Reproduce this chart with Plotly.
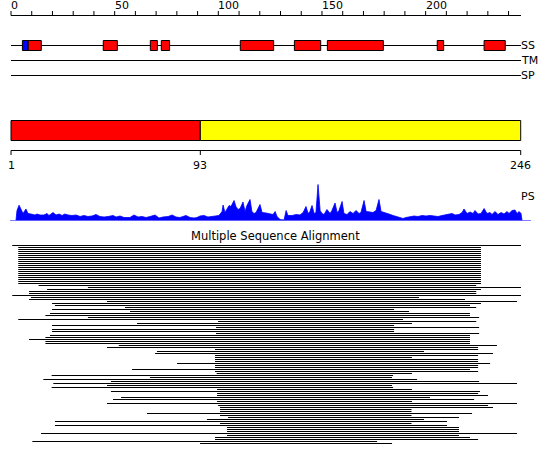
import plotly.graph_objects as go

# ------------------------------------------------------------------ data
SEQ_LEN = 246
RULER_TICKS = [0, 10, 20, 30, 40, 50, 60, 70, 80, 90, 100, 110, 120,
               130, 140, 150, 160, 170, 180, 190, 200, 210, 220, 230, 240]
RULER_LABELS = [0, 50, 100, 150, 200]

TRACKS = ["SS", "TM", "SP"]

# secondary structure elements (E = strand, H = helix)
SS_TYPE = ["E", "H", "H", "H", "H", "H", "H", "H", "H", "H"]
SS_START = [5.5, 8.3, 44.5, 67.2, 72.5, 110.6, 136.7, 152.6, 205.6, 228.2]
SS_END = [8.3, 14.6, 51.3, 70.6, 76.5, 126.7, 149.4, 179.6, 208.7, 238.4]

DOMAIN_START = [1, 93]
DOMAIN_END = [92, 246]
DOMAIN_COLOR = ["#ff0000", "#ffff00"]

# PS profile (position along sequence, score)
PS_POS = [2.4, 2.9, 3.9, 4.8, 5.8, 7.2, 8.2, 9.6, 11.6, 12.5,
          14.0, 15.9, 17.4, 18.3, 20.3, 21.7, 23.2, 24.6, 26.0, 27.5,
          29.4, 31.4, 33.3, 35.2, 37.1, 39.1, 41.0, 42.9, 44.9, 46.8,
          49.2, 50.7, 52.6, 54.5, 57.4, 59.3, 61.3, 63.2, 65.1, 67.1,
          69.5, 71.4, 73.3, 75.8, 77.7, 79.6, 81.5, 84.4, 86.4, 88.3,
          89.7, 91.2, 93.1, 95.0, 97.0, 98.9, 100.3, 101.8, 102.3, 103.2,
          104.2, 105.2, 106.1, 107.6, 108.5, 109.5, 110.5, 111.9, 112.9, 113.8,
          115.3, 116.2, 117.2, 118.2, 120.1, 121.1, 123.0, 124.9, 126.4, 127.4,
          128.3, 129.8, 131.7, 132.7, 133.6, 135.6, 137.5, 139.4, 140.9, 142.3,
          143.3, 144.2, 145.2, 146.2, 147.1, 148.1, 149.1, 150.0, 151.0, 152.4,
          153.9, 154.8, 156.3, 157.3, 158.2, 159.7, 160.6, 162.1, 163.5, 165.0,
          166.4, 167.9, 168.8, 170.3, 171.3, 173.2, 174.6, 176.1, 177.5, 178.5,
          180.4, 182.3, 184.3, 186.2, 188.1, 189.1, 190.5, 192.5, 194.4, 196.3,
          198.3, 200.2, 202.1, 204.1, 206.0, 207.9, 209.8, 211.3, 212.7, 214.2,
          216.1, 217.6, 218.5, 220.0, 221.4, 222.9, 223.8, 225.3, 226.7, 228.2,
          229.6, 231.1, 232.0, 233.5, 234.9, 236.4, 237.8, 239.3, 240.2, 241.7,
          243.1, 244.1, 245.1, 246.0, 246.5]
PS_VAL = [0, 10, 15.3, 12, 7, 11.5, 7, 6.5, 5.5, 6.5,
          5.5, 5.5, 7, 5, 8, 5.5, 6.5, 5, 6.5, 5.5,
          5, 5.5, 4, 5, 4, 4.5, 6, 4, 3.5, 4,
          5, 3.5, 4.5, 3, 3, 5.5, 3.5, 4, 3, 4,
          5.5, 2.5, 3.5, 4, 5.5, 3.5, 3, 5, 3, 2.5,
          3, 4.5, 5, 3.5, 4, 4.5, 5, 9, 15.5, 8,
          11, 15, 14, 20, 14, 11, 12, 18.5, 9, 15,
          21, 9, 7, 8, 16, 8, 7.5, 7, 6, 9,
          4, 1, 0.5, 10, 5, 5, 6, 5.5, 8, 14,
          7, 9, 15, 7, 8, 36, 10, 7, 6, 11,
          7, 10, 17.5, 8, 10, 19, 7, 6, 9, 7,
          10, 7, 8, 20, 9, 8.5, 8, 10, 21, 9,
          8, 6.5, 5, 3.5, 2.5, 2, 3, 4, 4.5, 4,
          5, 4.5, 5, 4.5, 4, 5, 5.5, 6, 7, 5.5,
          6, 8, 11.5, 7, 8.5, 7, 10, 6.5, 7, 12,
          7, 8, 6, 9, 6, 8, 6.5, 9, 7, 10,
          10.5, 7, 9, 7, 0]

# multiple sequence alignment: aligned span of each homologous sequence
MSA_START = [0.6, 3.5, 3.5, 3.5, 3.5, 3.5, 3.5, 3.5, 3.5, 3.5,
             3.5, 3.5, 3.5, 3.5, 3.5, 3.5, 3.5, 3.5, 3.5, 3.5,
             13.3, 37.1, 17.4, 8.7, 8.7, 0.6, 9.6, 8.7, 46.3, 19.8,
             21.2, 55.0, 19.8, 57.4, 18.8, 16.6, 37.1, 3.5, 99.9, 60.8,
             19.8, 98.9, 19.8, 19.8, 98.9, 18.8, 16.6, 8.7, 16.6, 16.6,
             52.0, 46.3, 98.4, 70.4, 69.5, 98.4, 98.4, 98.4, 98.4, 80.1,
             98.4, 98.4, 58.4, 98.4, 99.2, 19.6, 67.0, 15.6, 48.2, 20.4,
             46.3, 19.6, 99.4, 48.2, 99.4, 99.4, 53.1, 49.2, 99.4, 46.3,
             99.9, 100.8, 100.8, 100.8, 65.6, 100.8, 104.7, 94.5, 21.2, 100.8,
             21.2, 104.2, 104.2, 104.2, 14.5, 104.2, 98.4, 98.4, 10.3, 91.2]
MSA_END = [246.0, 226.7, 226.7, 226.7, 226.7, 226.7, 226.7, 226.7, 226.7, 226.7,
           226.7, 226.7, 226.7, 226.7, 226.7, 226.7, 226.7, 226.7, 226.7, 226.7,
           224.4, 246.0, 226.7, 224.4, 224.4, 246.0, 196.8, 219.0, 244.1, 226.7,
           221.4, 224.4, 184.8, 192.0, 221.4, 221.4, 225.8, 189.1, 224.4, 193.4,
           184.8, 225.8, 184.8, 184.8, 225.8, 221.4, 221.4, 221.4, 221.4, 221.4,
           234.4, 225.3, 225.3, 199.2, 232.5, 225.3, 193.4, 225.3, 225.3, 231.1,
           225.3, 225.3, 221.4, 225.3, 193.4, 184.3, 183.8, 195.9, 225.8, 244.1,
           183.8, 184.3, 193.4, 226.2, 225.3, 230.1, 202.1, 223.4, 193.4, 244.1,
           230.1, 232.5, 193.2, 193.2, 222.4, 193.2, 216.1, 199.2, 210.3, 193.2,
           210.3, 216.1, 216.1, 216.1, 244.1, 216.1, 221.4, 225.3, 176.6, 183.8]

# ------------------------------------------------------------------ layout constants
# pixel positions on the 550x465 canvas (page body margin is removed below)
W, H = 550, 465
FONT = "DejaVu Sans"
PX0 = 11.0                      # canvas x of the sequence start
PX_PER_RES = (521.0 - PX0) / SEQ_LEN
PX_PER_RES2 = (520.7 - PX0) / (SEQ_LEN - 1)

RULER_Y, TICK_TOP = 15.5, 11.0
LABEL_Y = 5.5
TRACK_Y = {"SS": 45.5, "TM": 60.5, "SP": 75.5}
BOX_HALF = 5.0
SS_COLOR = {"H": "#ff0000", "E": "#0000ff"}
BAR_TOP, BAR_BOT = 120.5, 140.5
RULER2_Y, RULER2_TICK = 150.5, 155.0
RULER2_LABEL_Y = 165.0
PS_BASE_PX, PS_SPAN = 220.5, 40.0
PS_LABEL_Y = 196.0
PS_AXIS_FROM, PS_AXIS_TO = -0.5, 250.8
MSA_TITLE_Y = 235.5
MSA_TOP_PX, MSA_ROW_PX = 244.5, 2.0

n_rows = len(MSA_START)
msa_bottom_px = MSA_TOP_PX + n_rows * MSA_ROW_PX


def yfrac(px):
    return 1 - px / H


fig = go.Figure()

# PS profile
fig.add_trace(go.Scatter(
    x=PS_POS, y=PS_VAL, xaxis="x", yaxis="y2", mode="lines",
    line=dict(color="#0000ff", width=0.8), fill="tozeroy", fillcolor="#0000ff",
    hoverinfo="skip", showlegend=False))

# MSA rows
mx, my = [], []
for k, (s, e) in enumerate(zip(MSA_START, MSA_END)):
    mx += [s, e, None]
    my += [k, k, None]
fig.add_trace(go.Scatter(
    x=mx, y=my, xaxis="x", yaxis="y3", mode="lines",
    line=dict(color="#000000", width=1), hoverinfo="skip", showlegend=False))

shapes = []
ann = []
blk = dict(color="#000000", width=1)

# top ruler
shapes.append(dict(type="line", xref="x", yref="y", x0=0, x1=SEQ_LEN,
                   y0=RULER_Y, y1=RULER_Y, line=blk))
for t in RULER_TICKS:
    shapes.append(dict(type="line", xref="x", yref="y", x0=t, x1=t,
                       y0=TICK_TOP, y1=RULER_Y, line=blk))
for v in RULER_LABELS:
    ann.append(dict(text=str(v), x=v, y=LABEL_Y, xref="x", yref="y",
                    xanchor="left", yanchor="middle", showarrow=False,
                    borderpad=0, borderwidth=0,
                    font=dict(family=FONT, size=11, color="#000")))

# feature tracks
for name in TRACKS:
    y = TRACK_Y[name]
    shapes.append(dict(type="line", xref="x", yref="y", x0=0, x1=SEQ_LEN,
                       y0=y, y1=y, line=blk))
    ann.append(dict(text=name, x=SEQ_LEN, y=y, xref="x", yref="y",
                    xanchor="left", yanchor="middle", showarrow=False,
                    borderpad=0, borderwidth=0,
                    font=dict(family=FONT, size=11, color="#000")))
for t, s, e in zip(SS_TYPE, SS_START, SS_END):
    y = TRACK_Y["SS"]
    shapes.append(dict(type="rect", xref="x", yref="y", x0=s, x1=e,
                       y0=y - BOX_HALF, y1=y + BOX_HALF,
                       fillcolor=SS_COLOR[t], line=blk))

# domain bar + its ruler
shapes.append(dict(type="line", xref="x2", yref="y", x0=DOMAIN_START[0],
                   x1=DOMAIN_END[-1], y0=RULER2_Y, y1=RULER2_Y, line=blk))
for i, (s, e, c) in enumerate(zip(DOMAIN_START, DOMAIN_END, DOMAIN_COLOR)):
    left = DOMAIN_END[i - 1] if i > 0 else s
    shapes.append(dict(type="rect", xref="x2", yref="y", x0=left, x1=e,
                       y0=BAR_TOP, y1=BAR_BOT, fillcolor=c, line=blk))
    for pos, lab in ([(left, s)] + ([(e, e)] if i == len(DOMAIN_START) - 1 else [])):
        shapes.append(dict(type="line", xref="x2", yref="y", x0=pos, x1=pos,
                           y0=RULER2_Y, y1=RULER2_TICK, line=blk))
        ann.append(dict(text=str(lab), x=pos, y=RULER2_LABEL_Y, xref="x2", yref="y",
                        xanchor="center", yanchor="middle", showarrow=False,
                        borderpad=0, borderwidth=0,
                        font=dict(family=FONT, size=11, color="#000")))

# PS baseline + label
shapes.append(dict(type="line", xref="x", yref="y2", x0=PS_AXIS_FROM, x1=PS_AXIS_TO,
                   y0=0, y1=0, line=dict(color="#0000ff", width=1)))
ann.append(dict(text="PS", x=SEQ_LEN, y=PS_LABEL_Y, xref="x", yref="y",
                xanchor="left", yanchor="middle", showarrow=False,
                borderpad=0, borderwidth=0,
                font=dict(family=FONT, size=11, color="#000")))

# MSA title
ann.append(dict(text="Multiple Sequence Alignment", x=0.5, y=MSA_TITLE_Y,
                xref="paper", yref="y", xanchor="center", yanchor="middle",
                showarrow=False, borderpad=0, borderwidth=0,
                font=dict(family=FONT, size=11.5, color="#000")))

hidden = dict(visible=False, showgrid=False, zeroline=False, fixedrange=True)
fig.update_layout(
    width=W, height=H, margin=dict(l=0, r=0, t=0, b=0, pad=0),
    paper_bgcolor="white", plot_bgcolor="white", hovermode=False,
    showlegend=False, shapes=shapes, annotations=ann,
    xaxis=dict(domain=[0, 1], range=[-PX0 / PX_PER_RES, (W - PX0) / PX_PER_RES],
               anchor="y", **hidden),
    xaxis2=dict(domain=[0, 1], overlaying="x", anchor="y",
                range=[DOMAIN_START[0] - PX0 / PX_PER_RES2,
                       DOMAIN_START[0] + (W - PX0) / PX_PER_RES2], **hidden),
    yaxis=dict(domain=[0, 1], range=[H, 0], anchor="x", **hidden),
    yaxis2=dict(domain=[yfrac(PS_BASE_PX), yfrac(PS_BASE_PX - PS_SPAN)],
                range=[0, PS_SPAN], anchor="x", **hidden),
    yaxis3=dict(domain=[yfrac(msa_bottom_px), yfrac(MSA_TOP_PX)],
                range=[n_rows - 0.5, -0.5], anchor="x", **hidden),
)

fig.write_html(
    "out.html",
    config={"displayModeBar": False, "staticPlot": True},
    post_script="document.body.style.margin='0px';document.body.style.overflow='hidden';",
)
